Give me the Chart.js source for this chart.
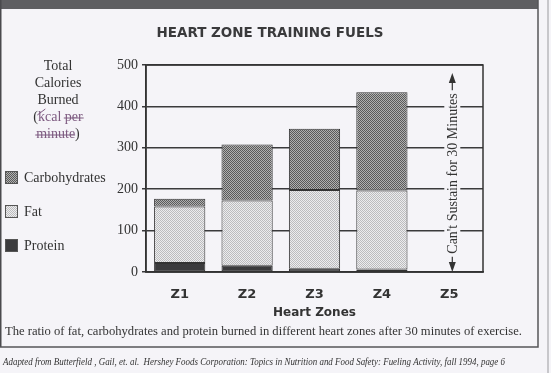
<!DOCTYPE html>
<html>
<head>
<meta charset="utf-8">
<script src="https://cdn.jsdelivr.net/npm/chart.js@4"></script>
<style>
  body { margin: 0; background: #f5f4f8; }
  canvas { display: block; }
</style>
</head>
<body>
<canvas id="fuelChart" width="551" height="373"></canvas>
<script>
// values (kcal per minute)
const zones = ['Z1', 'Z2', 'Z3', 'Z4', 'Z5'];
const protein = [22, 15, 8, 6, null];
const fat = [136, 158, 190, 191, null];
const carbs = [19, 135, 148, 237, null];
const yTicks = [0, 100, 200, 300, 400, 500];

const titleText = 'HEART ZONE TRAINING FUELS';
const sustainText = "Can't Sustain for 30 Minutes";
const captionText = 'The ratio of fat, carbohydrates and protein burned in different heart zones after 30 minutes of exercise.';
const sourceText = 'Adapted from Butterfield , Gail, et. al.  Hershey Foods Corporation: Topics in Nutrition and Food Safety: Fueling Activity, fall 1994, page 6';

const paper = '#f5f4f8';
const ink = '#333333';
const pen = '#7d5a80';
const serif = '"Liberation Serif", serif';
const sans = '"DejaVu Sans", sans-serif';

function makePattern(a, b) {
    const c = document.createElement('canvas');
    c.width = 2;
    c.height = 2;
    const g = c.getContext('2d');
    g.fillStyle = a;
    g.fillRect(0, 0, 2, 2);
    g.fillStyle = b;
    g.fillRect(0, 0, 1, 1);
    g.fillRect(1, 1, 1, 1);
    return g.createPattern(c, 'repeat');
}

const carbFill = makePattern('#b0b0b0', '#5a5a5a');
const fatFill = makePattern('#ececee', '#bcbcbe');
const proteinFill = '#3b3b3d';

// squeeze a line of text to the width it has in the scan
function fitText(ctx, text, x, y, width) {
    const w = ctx.measureText(text).width;
    ctx.save();
    ctx.translate(x, y);
    ctx.scale(Math.min(1, width / w), 1);
    ctx.fillText(text, 0, 0);
    ctx.restore();
}

// everything around the plot: frame, title, axis caption, legend, notes
const decorations = {
    id: 'decorations',
    afterDatasetsDraw(chart) {
        const ctx = chart.ctx;
        const area = chart.chartArea;
        const x = chart.scales.x;
        ctx.save();

        // plot frame
        ctx.strokeStyle = ink;
        ctx.lineWidth = 1.5;
        ctx.strokeRect(area.left, area.top, area.right - area.left, area.bottom - area.top);

        // can't sustain marker in Z5
        ctx.font = '14px ' + serif;
        const cx = x.getPixelForValue(4) + 3;
        const cy = (area.top + area.bottom) / 2 + 5;
        const half = ctx.measureText(sustainText).width / 2;
        ctx.fillStyle = paper;
        ctx.fillRect(cx - 8, cy - half - 2, 16, half * 2 + 4);
        ctx.fillStyle = ink;
        ctx.translate(cx, cy);
        ctx.rotate(-Math.PI / 2);
        ctx.textAlign = 'center';
        ctx.textBaseline = 'middle';
        ctx.fillText(sustainText, 0, 1);
        ctx.setTransform(1, 0, 0, 1, 0, 0);

        const topTip = area.top + 8;
        const botTip = area.bottom;
        ctx.lineWidth = 1.2;
        ctx.beginPath();
        ctx.moveTo(cx, cy - half - 3);
        ctx.lineTo(cx, topTip + 8);
        ctx.moveTo(cx, cy + half + 3);
        ctx.lineTo(cx, botTip - 8);
        ctx.stroke();
        ctx.beginPath();
        ctx.moveTo(cx, topTip);
        ctx.lineTo(cx - 3.5, topTip + 10);
        ctx.lineTo(cx + 3.5, topTip + 10);
        ctx.closePath();
        ctx.moveTo(cx, botTip);
        ctx.lineTo(cx - 3.5, botTip - 10);
        ctx.lineTo(cx + 3.5, botTip - 10);
        ctx.closePath();
        ctx.fill();
        ctx.restore();
    },
    afterDraw(chart) {
        const ctx = chart.ctx;
        ctx.save();

        // page frame
        ctx.fillStyle = '#5f5f62';
        ctx.fillRect(0, 0, 538, 9);
        ctx.fillStyle = '#4a4a4d';
        ctx.fillRect(0, 0, 1.5, 347);
        ctx.strokeStyle = '#555558';
        ctx.lineWidth = 1.5;
        ctx.beginPath();
        ctx.moveTo(538, 0);
        ctx.lineTo(538, 347);
        ctx.lineTo(0, 347);
        ctx.stroke();
        ctx.strokeStyle = '#9a9a9e';
        ctx.lineWidth = 1;
        ctx.beginPath();
        ctx.moveTo(548, 0);
        ctx.lineTo(548, 373);
        ctx.stroke();

        // title
        ctx.fillStyle = '#3a3a3c';
        ctx.font = 'bold 14px ' + sans;
        ctx.textAlign = 'center';
        ctx.textBaseline = 'middle';
        const tw = ctx.measureText(titleText).width;
        ctx.textAlign = 'left';
        fitText(ctx, titleText, 270 - Math.min(tw, 227) / 2, 33, 227);

        // y axis caption, with the pen marks of the scan
        ctx.font = '14px ' + serif;
        const lines = [
            [['Total', ink]],
            [['Calories', ink]],
            [['Burned', ink]],
            [['(', ink], ['kcal per', pen]],
            [['minute', pen], [')', ink]]
        ];
        const lineY = [66, 83, 100, 117, 134];
        lines.forEach((parts, i) => {
            const w = parts.reduce((s, p) => s + ctx.measureText(p[0]).width, 0);
            let px = 58 - w / 2;
            parts.forEach(p => {
                ctx.fillStyle = p[1];
                ctx.fillText(p[0], px, lineY[i]);
                px += ctx.measureText(p[0]).width;
            });
        });
        ctx.strokeStyle = pen;
        ctx.lineWidth = 1;
        const l4 = ctx.measureText('(kcal per').width;
        const perW = ctx.measureText('per').width;
        ctx.beginPath();
        ctx.moveTo(58 + l4 / 2 - perW - 1, lineY[3] + 1);
        ctx.lineTo(58 + l4 / 2 + 1, lineY[3] + 1);
        const l5 = ctx.measureText('minute)').width;
        ctx.moveTo(58 - l5 / 2 - 1, lineY[4] + 1);
        ctx.lineTo(58 + l5 / 2 - ctx.measureText(')').width, lineY[4] + 1);
        ctx.moveTo(58 - l4 / 2 + 4, lineY[3] - 2);
        ctx.lineTo(58 - l4 / 2 + 12, lineY[3] - 8);
        ctx.stroke();

        // legend, top to bottom like the stack
        const sets = chart.data.datasets.slice().reverse();
        const legendY = [177, 211, 245];
        sets.forEach((ds, i) => {
            ctx.fillStyle = ds.backgroundColor;
            ctx.fillRect(5, legendY[i] - 6, 13, 13);
            ctx.strokeStyle = '#555';
            ctx.lineWidth = 1;
            ctx.strokeRect(5.5, legendY[i] - 5.5, 12, 12);
            ctx.fillStyle = ink;
            ctx.fillText(ds.label, 24, legendY[i] + 1);
        });

        // caption and source
        ctx.font = '13px ' + serif;
        fitText(ctx, captionText, 5, 332, 517);
        ctx.font = 'italic 11px ' + serif;
        fitText(ctx, sourceText, 3, 362, 502);
        ctx.restore();
    }
};

const ctx = document.getElementById('fuelChart').getContext('2d');
new Chart(ctx, {
    type: 'bar',
    data: {
        labels: zones,
        datasets: [
            { label: 'Protein', data: protein, backgroundColor: proteinFill },
            { label: 'Fat', data: fat, backgroundColor: fatFill },
            { label: 'Carbohydrates', data: carbs, backgroundColor: carbFill }
        ]
    },
    options: {
        responsive: false,
        animation: false,
        devicePixelRatio: 1,
        layout: { padding: { left: 0, top: 65, right: 68, bottom: 49 } },
        datasets: {
            bar: {
                borderColor: '#333',
                borderWidth: 1,
                borderSkipped: false,
                categoryPercentage: 1,
                barPercentage: 0.76
            }
        },
        plugins: {
            legend: { display: false },
            tooltip: { enabled: false }
        },
        scales: {
            x: {
                stacked: true,
                afterFit: scale => { scale.height = 52; },
                grid: { drawOnChartArea: false, drawTicks: false, color: 'transparent' },
                border: { display: true, color: ink, width: 1.5 },
                ticks: { color: ink, padding: 15, font: { family: sans, weight: 'bold', size: 13 } },
                title: {
                    display: true,
                    text: 'Heart Zones',
                    color: ink,
                    padding: { top: 4, bottom: 4 },
                    font: { family: sans, weight: 'bold', size: 12 }
                }
            },
            y: {
                stacked: true,
                min: 0,
                max: 500,
                afterFit: scale => { scale.width = 146; },
                afterBuildTicks: scale => { scale.ticks = yTicks.map(v => ({ value: v })); },
                grid: { color: '#3a3a3c', lineWidth: 1.5, tickLength: 4 },
                border: { display: true, color: ink, width: 1.5 },
                ticks: { color: ink, padding: 4, font: { family: serif, size: 14 } }
            }
        }
    },
    plugins: [decorations]
});
</script>
</body>
</html>
